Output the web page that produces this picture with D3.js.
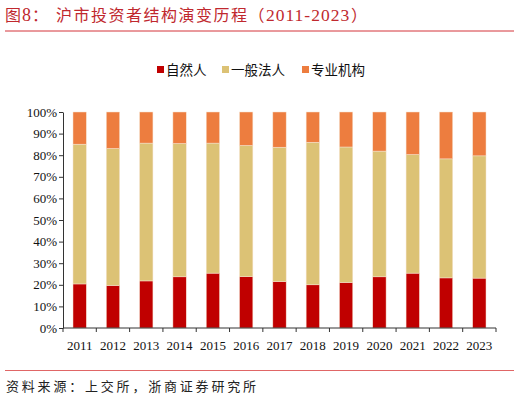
<!DOCTYPE html>
<html>
<head>
<meta charset="utf-8">
<script src="https://cdn.jsdelivr.net/npm/d3@7"></script>
<style>
  body { margin: 0; background: #fff; }
  svg { display: block; }
</style>
</head>
<body>
<div id="chart"></div>
<script>
// data, percent of market value
const years = ["2011","2012","2013","2014","2015","2016","2017","2018","2019","2020","2021","2022","2023"];
const natural = [20.4, 19.7, 21.8, 23.7, 25.4, 23.8, 21.5, 20.0, 21.1, 23.7, 25.4, 23.2, 23.1];
const corporate = [64.7, 63.4, 63.8, 61.7, 60.2, 60.7, 62.2, 66.0, 62.7, 58.2, 54.9, 55.1, 56.6];
const institution = [14.9, 16.9, 14.4, 14.6, 14.4, 15.5, 16.3, 14.0, 16.2, 18.1, 19.7, 21.7, 20.3];
const seriesNames = ["自然人", "一般法人", "专业机构"];
const yTicks = [0, 10, 20, 30, 40, 50, 60, 70, 80, 90, 100];

const colors = ["#C00000", "#DCC275", "#ED7D3F"];
const W = 520, H = 402;
const margin = {top: 112, right: 24, bottom: 74, left: 63};
const width = W - margin.left - margin.right,
      height = H - margin.top - margin.bottom;

const svg = d3.select("#chart").append("svg")
    .attr("width", W)
    .attr("height", H);

// title pieces, cjk + serif digits
const titleParts = [
    {t: "图", x: 5, f: "Noto Sans CJK SC", s: 16, ls: 0},
    {t: "8", x: 22, f: "Liberation Serif", s: 18, ls: 0},
    {t: "：", x: 32, f: "Noto Sans CJK SC", s: 16, ls: 0},
    {t: "沪市投资者结构演变历程（", x: 56, f: "Noto Sans CJK SC", s: 16, ls: 1.5},
    {t: "2011-2023", x: 266, f: "Liberation Serif", s: 17.5, ls: 1},
    {t: "）", x: 351, f: "Noto Sans CJK SC", s: 16, ls: 0}
];
svg.append("g").selectAll("text")
    .data(titleParts)
    .enter().append("text")
    .attr("x", d => d.x).attr("y", 21)
    .attr("fill", "#C0282E")
    .style("font-family", d => d.f)
    .style("font-size", d => d.s + "px")
    .style("letter-spacing", d => d.ls + "px")
    .text(d => d.t);

svg.append("line")
    .attr("x1", 5).attr("x2", 514).attr("y1", 31).attr("y2", 31)
    .attr("stroke", "#D4343A").attr("stroke-width", 1);
svg.append("line")
    .attr("x1", 5).attr("x2", 514).attr("y1", 370.5).attr("y2", 370.5)
    .attr("stroke", "#E06666").attr("stroke-width", 1);

svg.append("text")
    .attr("x", 6).attr("y", 391)
    .style("font-family", "Noto Sans CJK SC")
    .style("font-size", "13px")
    .style("letter-spacing", "2.8px")
    .attr("fill", "#222")
    .text("资料来源：上交所，浙商证券研究所");

// legend
const legendX = [157, 222, 302];
const legend = svg.append("g").selectAll("g")
    .data(seriesNames)
    .enter().append("g")
    .attr("transform", (d, i) => "translate(" + legendX[i] + ",70)");
legend.append("rect")
    .attr("x", 0).attr("y", -4).attr("width", 7).attr("height", 7)
    .attr("fill", (d, i) => colors[i]);
legend.append("text")
    .attr("x", 9).attr("y", 0)
    .attr("dy", "0.36em")
    .style("font-family", "Noto Sans CJK SC")
    .style("font-size", "13.5px")
    .attr("fill", "#111")
    .text(d => d);

const g = svg.append("g")
    .attr("transform", "translate(" + margin.left + "," + margin.top + ")");

const x = d3.scaleBand()
    .domain(years)
    .range([0, width])
    .paddingInner(0.6)
    .paddingOuter(0.3);

const y = d3.scaleLinear()
    .domain([0, 100])
    .range([height, 0]);

const rows = years.map((yr, i) => ({year: yr, natural: natural[i], corporate: corporate[i], institution: institution[i]}));
const stack = d3.stack().keys(["natural", "corporate", "institution"]);
const layers = stack(rows);

g.selectAll(".layer")
    .data(layers)
    .enter().append("g")
    .attr("class", "layer")
    .attr("fill", (d, i) => colors[i])
    .selectAll("rect")
    .data(d => d)
    .enter().append("rect")
    .attr("x", d => x(d.data.year))
    .attr("width", x.bandwidth())
    .attr("y", d => y(d[1]))
    .attr("height", d => y(d[0]) - y(d[1]))
    .attr("stroke", "#F6E3D0")
    .attr("stroke-width", 0.5);

// y axis
const yAxis = d3.axisLeft(y)
    .tickValues(yTicks)
    .tickFormat(d => d + "%")
    .tickSize(4)
    .tickSizeOuter(0);
const ya = g.append("g").call(yAxis);
ya.selectAll("text")
    .style("font-family", "Liberation Serif")
    .style("font-size", "13px")
    .attr("fill", "#111")
    .attr("x", -6);
ya.selectAll("line, path").attr("stroke", "#333");

// x axis, ticks between categories
const xa = g.append("g").attr("transform", "translate(0," + height + ")");
xa.append("line")
    .attr("x1", 0).attr("x2", width)
    .attr("stroke", "#333");
xa.selectAll(".tk")
    .data(d3.range(years.length + 1))
    .enter().append("line")
    .attr("class", "tk")
    .attr("x1", i => i * x.step()).attr("x2", i => i * x.step())
    .attr("y1", 0).attr("y2", 4)
    .attr("stroke", "#333");
xa.selectAll(".lbl")
    .data(years)
    .enter().append("text")
    .attr("class", "lbl")
    .attr("x", d => x(d) + x.bandwidth() / 2)
    .attr("y", 22)
    .attr("text-anchor", "middle")
    .style("font-family", "Liberation Serif")
    .style("font-size", "13px")
    .attr("fill", "#111")
    .text(d => d);
</script>
</body>
</html>
